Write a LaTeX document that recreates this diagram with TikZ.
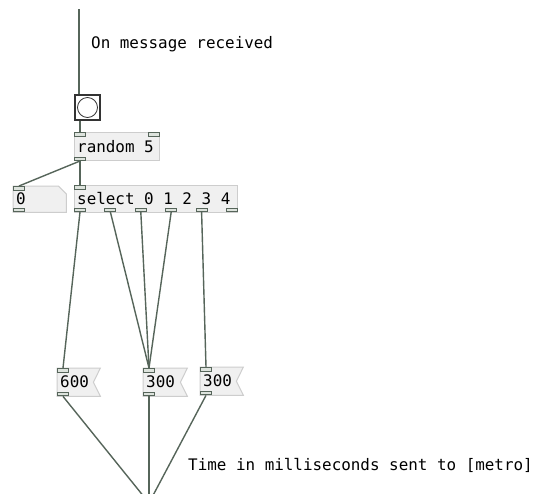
\documentclass[tikz,border=0pt]{standalone}
\usepackage{fontspec}
\newfontfamily\pdmono{DejaVu Sans Mono}
\usetikzlibrary{positioning}
\definecolor{pdwire}{HTML}{56655A}
\definecolor{pdedge}{HTML}{CDCDCD}
\definecolor{pdfill}{HTML}{F0F0F0}
\definecolor{pdport}{HTML}{DDE3DD}
\newcommand{\pdfont}{\pdmono\fontsize{15.9}{18}\selectfont}

\begin{document}
\begin{tikzpicture}[x=1pt,y=-1pt]
 \tikzstyle{obj} = [draw=pdedge, fill=pdfill, line width=1pt, anchor=north west, inner sep=0pt];
 \tikzstyle{flagged} = [anchor=north west, inner sep=0pt];
 \tikzstyle{port} = [draw=pdwire, fill=pdport, line width=1pt, minimum width=11pt, minimum height=3.5pt, inner sep=0pt];
 \tikzstyle{wire} = [draw=pdwire, line width=1.4pt];
 \tikzstyle{note} = [anchor=west, inner sep=0pt, font=\pdfont];
 \tikzstyle{label} = [anchor=west, inner xsep=3pt, inner ysep=0pt, font=\pdfont];

 \useasboundingbox (0,0) rectangle (533,493);
 \clip (0,0) rectangle (533,493);

 % comments
 \node (received) [note] at (91,44) {On message received};
 \node (sent) [note] at (188,465) {Time in milliseconds sent to [metro]};

 % bang
 \node (bng) [draw=black!80, fill=white, line width=2pt, minimum size=25pt, anchor=north west, inner sep=0pt] at (74,94) {};
 \node (bngdot) [draw=black!80, line width=0.8pt, circle, minimum size=20pt, inner sep=0pt] at (bng.center) {};
 \coordinate (src) at (79,9);

 % objects
 \node (rnd) [obj, minimum width=85pt, minimum height=28pt] at (74,132) {};
 \node (rndtxt) [label] at (rnd.west) {random 5};
 \node (sel) [obj, minimum width=163pt, minimum height=27pt] at (74,185) {};
 \node (seltxt) [label] at (sel.west) {select 0 1 2 3 4};
 \node (num) [flagged, minimum width=53pt, minimum height=26pt] at (13,186) {};
 \draw [draw=pdedge, fill=pdfill, line width=1pt] (num.north west) -- ([xshift=-8pt]num.north east) -- ([yshift=-8pt]num.north east) -- (num.south east) -- (num.south west) -- cycle;
 \node (numval) [label] at (num.west) {0};

 % messages
 \node (msgA) [flagged, minimum width=36pt, minimum height=28pt] at (57,368) {};
 \node (msgB) [flagged, minimum width=37pt, minimum height=28pt] at (143,368) {};
 \node (msgC) [flagged, minimum width=36pt, minimum height=28pt] at (200,367) {};
 \foreach \m/\v in {msgA/600, msgB/300, msgC/300} {
  \draw [draw=pdedge, fill=pdfill, line width=1pt] (\m.north west) -- ([xshift=7pt]\m.north east) -- (\m.east) -- ([xshift=7pt]\m.south east) -- (\m.south west) -- cycle;
  \node at (\m.west) [label] {\v};
 }

 % inlets and outlets
 \node (rndin) [port, anchor=north west] at (rnd.north west) {};
 \node (rndin1) [port, anchor=north east] at (rnd.north east) {};
 \node (rndout) [port, anchor=south west] at (rnd.south west) {};
 \node (numin) [port, anchor=north west] at (num.north west) {};
 \node (numout) [port, anchor=south west] at (num.south west) {};
 \node (selin) [port, anchor=north west] at (sel.north west) {};
 \foreach \i in {0,...,5}
  \node (selout\i) [port, anchor=south west] at (74+30.4*\i,212) {};
 \foreach \m in {msgA, msgB, msgC} {
  \node (\m in) [port, anchor=north west] at (\m.north west) {};
  \node (\m out) [port, anchor=south west] at (\m.south west) {};
 }
 \coordinate (metro) at (149,503);

 % connections
 \draw [wire] (src) -- (src |- bng.north);
 \draw [wire] (rndin.north |- bng.south) -- (rndin.north);
 \draw [wire] (rndout.south) -- (numin.north);
 \draw [wire] (rndout.south) -- (selin.north);
 \draw [wire] (selout0.south) -- (msgAin.north);
 \draw [wire] (selout1.south) -- (msgBin.north);
 \draw [wire] (selout2.south) -- (msgBin.north);
 \draw [wire] (selout3.south) -- (msgBin.north);
 \draw [wire] (selout4.south) -- (msgCin.north);
 \draw [wire] (msgAout.south) -- (metro);
 \draw [wire] (msgBout.south) -- (metro);
 \draw [wire] (msgCout.south) -- (metro);

\end{tikzpicture}
\end{document}
